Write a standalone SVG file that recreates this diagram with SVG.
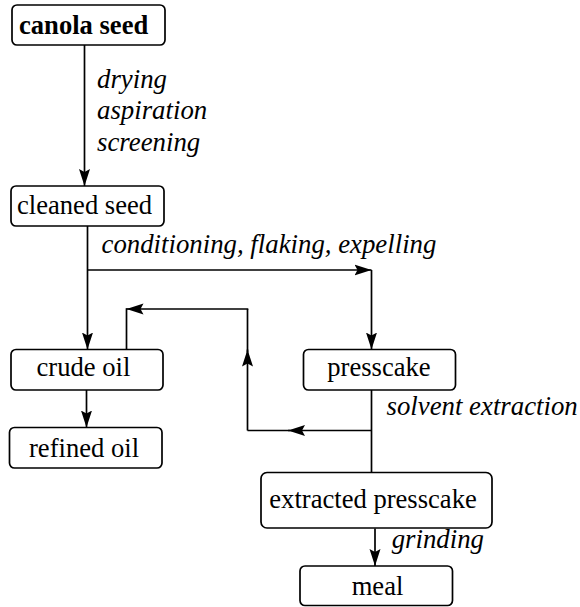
<svg xmlns="http://www.w3.org/2000/svg" width="580" height="607" viewBox="0 0 580 607">
  <style>
    .box { fill: #fff; stroke: #000; stroke-width: 1.7; }
    text { font-family: 'Liberation Serif', 'Times New Roman', Times, 'Nimbus Roman', 'DejaVu Serif', serif; fill: #000; }
    .lbl { font-size: 26.6px; }
    .bold { font-weight: bold; }
    .it { font-size: 26.8px; font-style: italic; }
    .wire { fill: none; stroke: #000; stroke-width: 1.7; }
  </style>
  <defs>
    <marker id="arrow" markerUnits="userSpaceOnUse" markerWidth="20" markerHeight="14" refX="17" refY="6" orient="auto">
      <path d="M0,0.5 L17,6 L0,11.5 L3,6 Z" fill="#000"/>
    </marker>
  </defs>

  <!-- connectors -->
  <g id="connectors">
    <line class="wire" x1="84.5" y1="45" x2="84.5" y2="186" marker-end="url(#arrow)"/>
    <line class="wire" x1="87.5" y1="226" x2="87.5" y2="349.5" marker-end="url(#arrow)"/>
    <line class="wire" x1="87.5" y1="270" x2="371.5" y2="270" marker-end="url(#arrow)"/>
    <line class="wire" x1="371.5" y1="270" x2="371.5" y2="349.5" marker-end="url(#arrow)"/>
    <line class="wire" x1="86.5" y1="390" x2="86.5" y2="427.5" marker-end="url(#arrow)"/>
    <line class="wire" x1="371.5" y1="390" x2="371.5" y2="472.5"/>
    <!-- return loop from the solvent stage back to crude oil -->
    <line class="wire" x1="371.5" y1="430.5" x2="288" y2="430.5" marker-end="url(#arrow)"/>
    <line class="wire" x1="290" y1="430.5" x2="247.5" y2="430.5"/>
    <line class="wire" x1="247.5" y1="430.5" x2="247.5" y2="349.5" marker-end="url(#arrow)"/>
    <line class="wire" x1="247.5" y1="352" x2="247.5" y2="309"/>
    <line class="wire" x1="248.3" y1="309" x2="126.5" y2="309" marker-end="url(#arrow)"/>
    <line class="wire" x1="126.5" y1="308.2" x2="126.5" y2="349.5"/>
    <line class="wire" x1="375" y1="528.5" x2="375" y2="566" marker-end="url(#arrow)"/>
  </g>

  <g id="canola-seed">
    <rect class="box" x="12" y="5" width="153" height="40" rx="5"/>
    <text class="lbl bold" x="19" y="34">canola seed</text>
  </g>
  <g id="cleaning-steps">
    <text class="it" x="97" y="87.5">drying</text>
    <text class="it" x="97" y="119">aspiration</text>
    <text class="it" x="97" y="150.5">screening</text>
  </g>
  <g id="cleaned-seed">
    <rect class="box" x="11" y="186" width="153" height="40" rx="5"/>
    <text class="lbl" x="17" y="213.5">cleaned seed</text>
  </g>
  <g id="pressing-steps">
    <text class="it" x="101.5" y="252.5">conditioning, flaking, expelling</text>
  </g>
  <g id="crude-oil">
    <rect class="box" x="11" y="349.5" width="152" height="40.5" rx="5"/>
    <text class="lbl" x="36.5" y="376">crude oil</text>
  </g>
  <g id="refined-oil">
    <rect class="box" x="9.5" y="427.5" width="152.5" height="40.5" rx="5"/>
    <text class="lbl" x="29" y="456.5">refined oil</text>
  </g>
  <g id="presscake">
    <rect class="box" x="303.5" y="349.5" width="152" height="40.5" rx="5"/>
    <text class="lbl" x="327.3" y="376">presscake</text>
  </g>
  <g id="solvent-step">
    <text class="it" x="386.5" y="415">solvent extraction</text>
  </g>
  <g id="extracted-presscake">
    <rect class="box" x="261" y="472.5" width="231" height="55.5" rx="6"/>
    <text class="lbl" x="269.3" y="508">extracted presscake</text>
  </g>
  <g id="grinding-step">
    <text class="it" x="391.7" y="548">grinding</text>
  </g>
  <g id="meal">
    <rect class="box" x="300" y="566" width="152.5" height="39.5" rx="5"/>
    <text class="lbl" x="351.7" y="595">meal</text>
  </g>
</svg>
